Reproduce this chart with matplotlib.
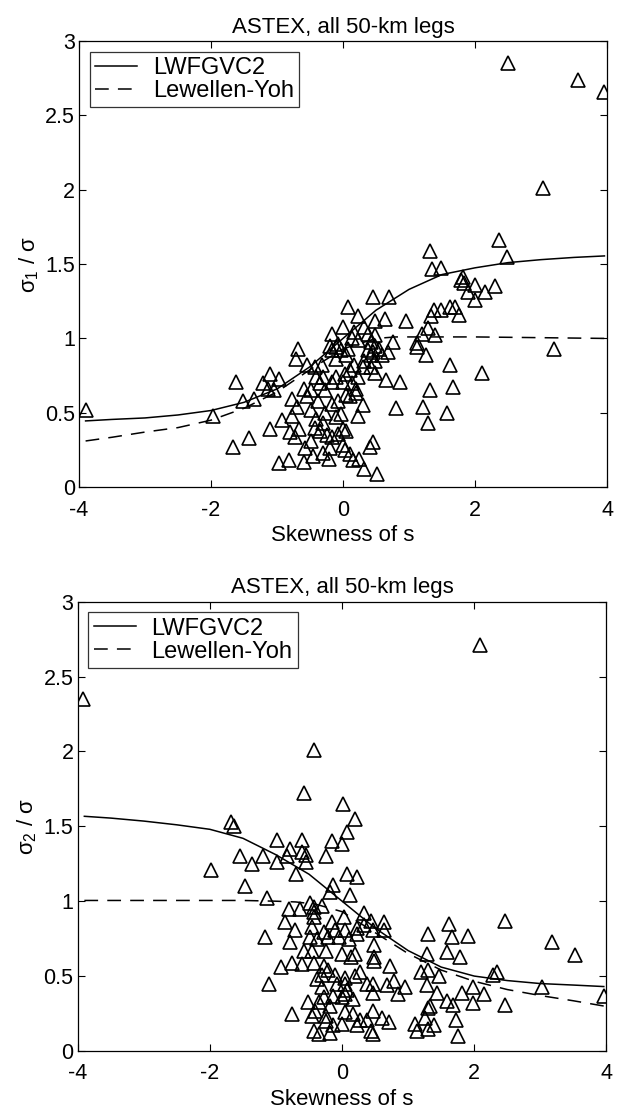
import matplotlib
matplotlib.use("Agg")
import matplotlib.pyplot as plt

plt.rcParams['font.family'] = ['Liberation Sans', 'DejaVu Sans']
plt.rcParams['mathtext.fontset'] = 'custom'
plt.rcParams['mathtext.rm'] = 'Liberation Sans'
plt.rcParams['mathtext.it'] = 'Liberation Sans:italic'

# ---------------- data: top panel (sigma_1 / sigma) ----------------
top_pts = [(-3.90,0.516),(2.50,2.85),(3.56,2.74),(3.96,2.66),(3.03,2.01),(2.37,1.66),(1.31,1.59),(2.48,1.55),
 (1.35,1.47),(1.49,1.475),(1.81,1.41),(1.78,1.39),(1.84,1.37),(2.00,1.36),(2.30,1.35),(1.89,1.31),(2.15,1.31),
 (2.00,1.26),(0.46,1.28),(0.69,1.28),(0.07,1.21),(1.62,1.21),(1.70,1.21),(1.38,1.19),(1.49,1.19),(1.76,1.16),
 (1.33,1.15),(0.22,1.15),(0.96,1.12),(0.63,1.13),(0.48,1.12),(1.29,1.07),(0.00,1.08),(-0.16,1.03),(1.39,1.02),
 (1.19,1.03),(1.12,0.97),(1.12,0.94),(1.25,0.89),(0.76,0.975),(3.19,0.93),(1.62,0.82),(2.10,0.77),(1.31,0.65),
 (1.66,0.67),(0.86,0.71),(0.65,0.72),(0.80,0.53),(1.21,0.54),(1.58,0.50),(1.28,0.43),(-1.97,0.48),(-1.62,0.71),
 (-1.51,0.58),(-1.35,0.59),(-1.66,0.27),(-1.43,0.33),(-1.11,0.76),(-1.22,0.70),(-0.97,0.73),(-1.14,0.66),
 (-1.05,0.65),(-1.11,0.39),(-0.68,0.93),(-0.71,0.86),(-0.97,0.16),(-0.82,0.18),(-0.59,0.17),(-0.22,0.19),
 (-0.78,0.59),(-0.77,0.48),(-0.92,0.45),(-0.81,0.37),(-0.73,0.34),(-0.66,0.39),(-0.57,0.26),(-0.46,0.21),
 (-0.30,0.23),(0.11,0.22),(0.15,0.18),(0.24,0.19),(0.32,0.12),(0.51,0.09),(0.41,0.27),(0.46,0.30),(0.00,0.28),
 (-0.16,0.34),(-0.08,0.36),(0.05,0.38),(0.00,0.39),(-0.24,0.35),(-0.35,0.38),(-0.49,0.31),(-0.43,0.40),
 (-0.30,0.43),(-0.41,0.46),(-0.27,0.50),(-0.03,0.49),(0.22,0.48),(0.30,0.55),(0.19,0.63),(0.11,0.61),
 (0.05,0.62),(-0.08,0.58),(-0.16,0.56),(-0.38,0.58),(-0.54,0.61),(-0.70,0.54),(-0.49,0.52),(-0.59,0.66),
 (-0.49,0.65),(-0.35,0.70),(-0.27,0.65),(-0.17,0.71),(0.00,0.71),(0.14,0.70),(0.19,0.66),(0.22,0.74),
 (0.03,0.76),(-0.11,0.74),(-0.30,0.74),(-0.41,0.74),(-0.54,0.82),(-0.43,0.81),(-0.32,0.82),(0.11,0.785),
 (0.16,0.82),(0.30,0.81),(0.32,0.85),(-0.11,0.86),(-0.19,0.95),(-0.11,0.94),(-0.08,0.96),(-0.16,0.92),
 (-0.03,0.92),(0.05,0.89),(0.08,0.93),(0.14,1.00),(0.16,1.04),(0.22,0.99),(0.32,1.08),(0.38,1.03),(0.49,1.02),
 (0.43,0.975),(0.49,0.95),(0.38,0.92),(0.46,0.91),(0.54,0.93),(0.49,0.85),(0.59,0.89),(0.68,0.91),(0.43,0.89),
 (0.49,0.77),(0.43,0.81),(-0.11,0.47),(-0.19,0.26),(0.03,0.25)]
top_x = [p[0] for p in top_pts]
top_y = [p[1] for p in top_pts]

top_lwf_x = [-3.9,-3.5,-3.0,-2.5,-2.0,-1.5,-1.0,-0.5,0.0,0.5,1.0,1.5,2.0,2.5,3.0,3.5,3.96]
top_lwf_y = [0.445,0.455,0.465,0.485,0.515,0.57,0.66,0.81,1.0,1.19,1.33,1.43,1.475,1.51,1.53,1.545,1.555]
top_ly_x = [-3.9,-3.5,-3.0,-2.5,-2.0,-1.5,-1.0,-0.5,0.0,0.5,0.8,1.5,2.0,3.0,3.96]
top_ly_y = [0.31,0.335,0.37,0.40,0.45,0.53,0.64,0.79,0.93,1.0,1.01,1.01,1.01,1.005,1.0]

# ---------------- data: bottom panel (sigma_2 / sigma) ----------------
bot_pts = [(-3.92,2.35),(2.09,2.71),(-0.42,2.01),(-0.57,1.72),(0.01,1.65),(0.20,1.55),(-1.68,1.53),(-1.63,1.50),
 (0.07,1.46),(-0.99,1.41),(-0.61,1.41),(-0.15,1.40),(0.00,1.38),(-0.79,1.35),(-0.60,1.33),(-0.54,1.31),
 (-1.55,1.305),(-1.20,1.30),(-1.36,1.25),(-0.98,1.26),(-0.84,1.30),(-0.24,1.305),(-0.54,1.265),(-1.99,1.21),
 (-0.69,1.18),(0.08,1.18),(0.22,1.16),(-1.47,1.10),(-0.14,1.11),(-0.19,1.06),(0.12,1.04),(-1.14,1.02),
 (-0.49,0.985),(-0.43,0.96),(-0.30,0.97),(-0.80,0.945),(-0.63,0.95),(-0.42,0.93),(-0.42,0.895),(0.03,0.895),
 (0.33,0.92),(0.43,0.87),(0.63,0.86),(1.61,0.85),(2.47,0.87),(-0.86,0.86),(-0.71,0.81),(-1.17,0.76),
 (-0.79,0.73),(-0.46,0.83),(-0.16,0.86),(-0.27,0.795),(-0.11,0.81),(0.05,0.81),(0.22,0.82),(0.33,0.84),
 (0.46,0.81),(0.63,0.81),(-0.49,0.76),(-0.38,0.75),(-0.22,0.76),(-0.05,0.76),(0.11,0.75),(0.22,0.78),
 (1.30,0.78),(1.67,0.76),(1.90,0.77),(3.18,0.73),(3.53,0.64),(1.29,0.65),(1.58,0.66),(1.79,0.63),(0.49,0.705),
 (-0.57,0.67),(-0.46,0.67),(-0.24,0.67),(0.00,0.65),(0.19,0.65),(0.14,0.63),(0.49,0.63),(0.48,0.60),
 (-0.76,0.59),(-0.60,0.58),(-0.43,0.59),(-0.27,0.57),(-0.22,0.54),(-0.92,0.56),(0.73,0.57),(-1.11,0.45),
 (-0.30,0.51),(-0.11,0.51),(0.05,0.49),(0.27,0.53),(0.19,0.50),(1.20,0.53),(1.30,0.54),(1.46,0.50),
 (2.28,0.51),(2.34,0.53),(-0.38,0.48),(-0.30,0.425),(-0.08,0.45),(0.05,0.45),(0.38,0.45),(0.46,0.45),
 (0.68,0.44),(0.79,0.47),(0.95,0.425),(0.84,0.38),(0.46,0.39),(1.28,0.44),(1.44,0.39),(1.82,0.39),
 (1.98,0.425),(2.15,0.38),(3.02,0.425),(3.97,0.37),(1.58,0.335),(1.68,0.31),(1.98,0.32),(2.47,0.31),
 (1.33,0.30),(0.08,0.41),(0.05,0.38),(0.00,0.36),(-0.14,0.37),(-0.27,0.36),(-0.35,0.325),(-0.19,0.30),
 (0.16,0.35),(-0.52,0.325),(-0.41,0.27),(-0.76,0.25),(-0.46,0.235),(-0.24,0.235),(0.05,0.26),(0.16,0.25),
 (0.27,0.21),(0.46,0.27),(0.38,0.21),(0.60,0.22),(0.71,0.19),(-0.24,0.20),(-0.14,0.17),(-0.35,0.11),
 (-0.19,0.12),(0.00,0.18),(0.22,0.17),(0.43,0.13),(0.46,0.11),(1.11,0.18),(1.14,0.13),(1.30,0.145),
 (1.39,0.17),(1.25,0.22),(1.30,0.29),(1.73,0.21),(1.76,0.10),(-0.43,0.135)]
bot_x = [p[0] for p in bot_pts]
bot_y = [p[1] for p in bot_pts]

bot_lwf_x = [-3.9,-3.5,-3.0,-2.5,-2.0,-1.5,-1.0,-0.5,0.0,0.5,1.0,1.5,2.0,2.5,3.0,3.5,3.96]
bot_lwf_y = [1.567,1.555,1.535,1.51,1.48,1.42,1.31,1.18,1.0,0.82,0.67,0.56,0.50,0.47,0.45,0.44,0.43]
bot_ly_x = [-3.9,-3.0,-2.0,-1.5,-1.0,-0.7,-0.4,0.0,0.5,1.0,1.5,2.0,2.5,3.0,3.5,3.96]
bot_ly_y = [1.005,1.005,1.005,1.005,1.0,0.995,0.98,0.93,0.79,0.65,0.54,0.465,0.41,0.37,0.335,0.30]

title = "ASTEX, all 50-km legs"
xticks = [-4, -2, 0, 2, 4]
yticks = [0, 0.5, 1, 1.5, 2, 2.5, 3]
ytick_labels = ["0", "0.5", "1", "1.5", "2", "2.5", "3"]

fig = plt.figure(figsize=(6.22, 11.12), dpi=100)
ax1 = fig.add_axes([0.127, 0.562, 0.849, 0.401])
ax2 = fig.add_axes([0.125, 0.0549, 0.850, 0.404])

FS = 16
TFS = 15.5
panels = [
    (ax1, top_x, top_y, top_lwf_x, top_lwf_y, top_ly_x, top_ly_y, r'$\mathregular{\sigma_1\ /\ \sigma}$'),
    (ax2, bot_x, bot_y, bot_lwf_x, bot_lwf_y, bot_ly_x, bot_ly_y, r'$\mathregular{\sigma_2\ /\ \sigma}$'),
]
for ax, px, py, lx, ly, dx, dy, ylab in panels:
    ax.plot(px, py, linestyle='none', marker='^', markersize=10, markerfacecolor='none',
            markeredgecolor='black', markeredgewidth=1.2)
    ax.plot(lx, ly, color='black', linewidth=1.1, label='LWFGVC2')
    ax.plot(dx, dy, color='black', linewidth=1.1, dashes=(9, 6), label='Lewellen-Yoh')
    ax.set_xlim(-4, 4)
    ax.set_ylim(0, 3)
    ax.set_xticks(xticks)
    ax.set_xticklabels([str(t) for t in xticks])
    ax.set_yticks(yticks)
    ax.set_yticklabels(ytick_labels)
    ax.tick_params(direction='in', top=True, right=True, length=5, width=0.8, labelsize=TFS)
    ax.tick_params(axis='x', pad=9)
    ax.tick_params(axis='y', pad=3)
    for s in ax.spines.values():
        s.set_linewidth(0.9)
    ax.set_title(title, fontsize=FS, pad=6)
    ax.set_xlabel('Skewness of s', fontsize=FS, labelpad=3)
    ax.set_ylabel(ylab, fontsize=FS, labelpad=3)
    leg = ax.legend(loc='upper left', fontsize=17, frameon=True, fancybox=False,
                    edgecolor='black', handlelength=1.8, borderaxespad=0.45,
                    borderpad=0.22, labelspacing=0.05, handletextpad=0.65)
    leg.get_frame().set_linewidth(0.9)

fig.savefig('out.png', dpi=100)
